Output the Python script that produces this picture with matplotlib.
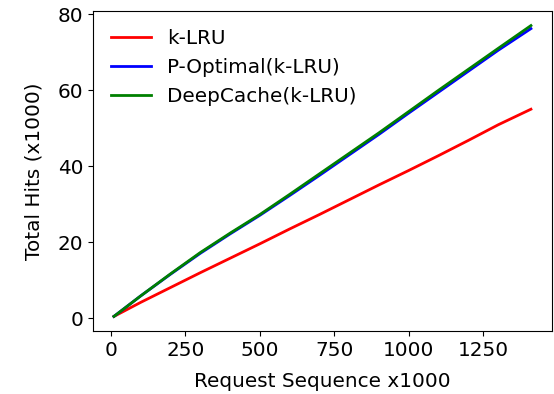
import matplotlib
matplotlib.use("Agg")
import matplotlib.pyplot as plt

# request sequence (x1000)
requests = [10, 100, 200, 300, 400, 500, 600, 700, 800, 900, 1000,
            1100, 1200, 1300, 1410]

# total hits (x1000)
klru = [0.5, 4.2, 8.1, 12.0, 15.8, 19.6, 23.5, 27.3, 31.2, 35.1, 38.9,
        42.8, 46.8, 50.9, 55.0]
p_optimal = [0.5, 5.9, 11.6, 17.1, 22.2, 27.1, 32.3, 37.6, 43.0, 48.4, 54.0,
             59.5, 65.0, 70.5, 76.2]
deepcache = [0.5, 5.9, 11.7, 17.3, 22.4, 27.3, 32.6, 38.0, 43.4, 48.8, 54.4,
             60.0, 65.5, 71.0, 77.0]

plt.rcParams['font.size'] = 14.4

fig, ax = plt.subplots(figsize=(5.54, 3.94), dpi=100)
ax.plot(requests, klru, color='red', lw=2, label='k-LRU')
ax.plot(requests, p_optimal, color='blue', lw=2, label='P-Optimal(k-LRU)')
ax.plot(requests, deepcache, color='green', lw=2, label='DeepCache(k-LRU)')

ax.set_xticks([0, 250, 500, 750, 1000, 1250])
ax.set_yticks([0, 20, 40, 60, 80])
ax.set_xlabel('Request Sequence x1000', labelpad=9)
ax.set_ylabel('Total Hits (x1000)', labelpad=10)
ax.legend(loc='upper left', frameon=False)

fig.subplots_adjust(left=0.168, right=0.996, top=0.972, bottom=0.16)
fig.savefig('out.png')
